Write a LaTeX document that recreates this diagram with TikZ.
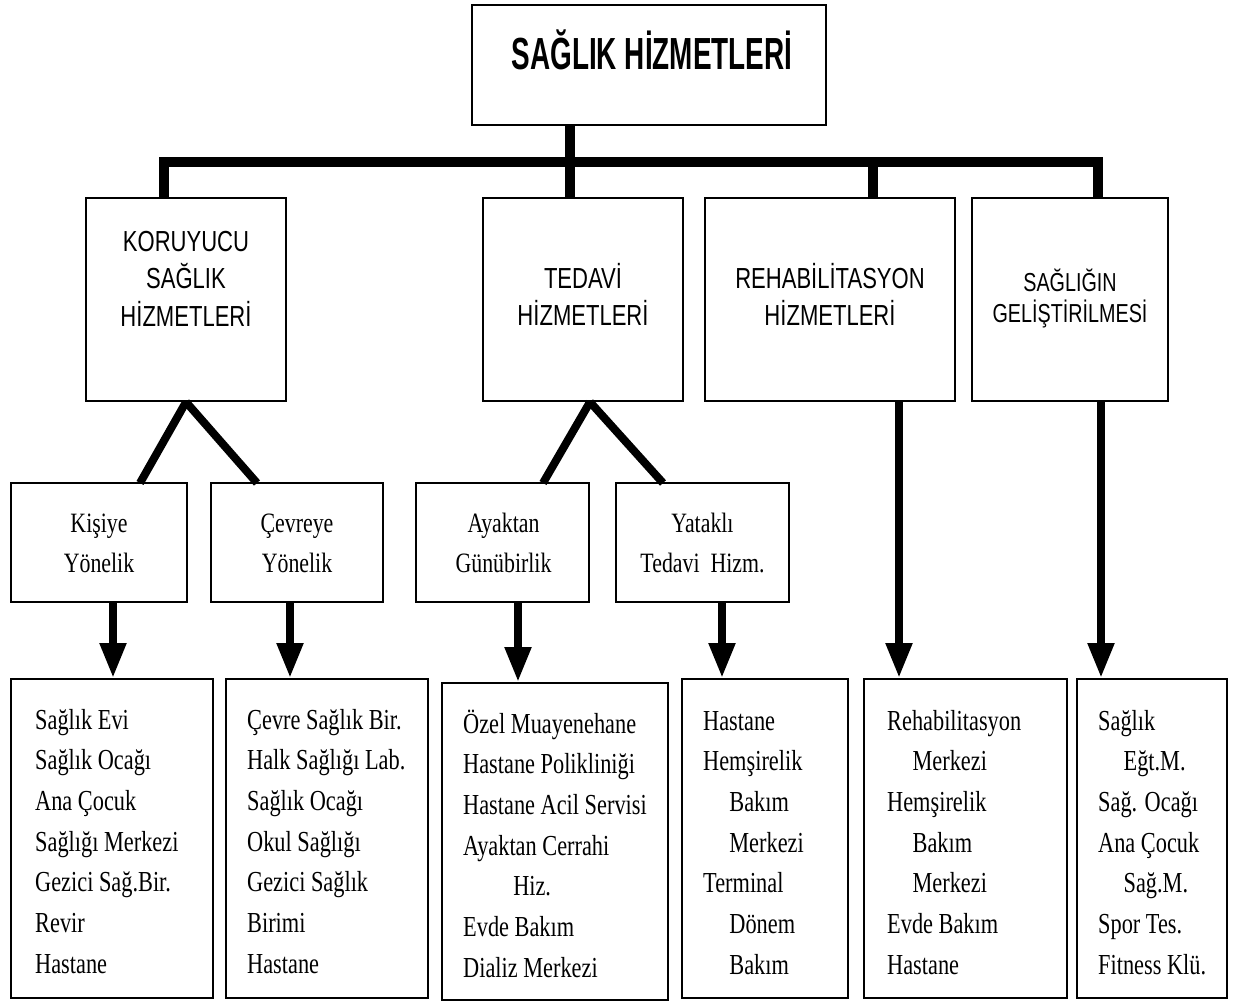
\documentclass[tikz,border=0pt]{standalone}
\usepackage{graphicx}
\usepackage{fontspec}
\setmainfont{Liberation Serif}
\setsansfont{Liberation Sans}
\usetikzlibrary{arrows.meta}

% a horizontally narrowed stack of lines; first row's baseline is the box baseline
\newcommand\linestack[3]{\scalebox{#1}[1]{\begin{tabular}[t]{@{}#2@{}}#3\end{tabular}}}
\newcommand\ind[1]{\hspace*{#1pt}}

\begin{document}
\begin{tikzpicture}[x=1pt,y=-1pt,
  box/.style={draw, line width=2pt, rectangle, inner sep=0pt},
  bus/.style={line width=10pt, line join=miter},
  leg/.style={line width=8pt},
  arr/.style={line width=8pt, -{Triangle[width=25pt,length=35pt]}},
  txt/.style={inner sep=0pt, anchor=base},
  head/.style={txt, font=\sffamily\fontsize{29}{37.5}\selectfont},
  sub/.style={txt, font=\rmfamily\fontsize{28}{40}\selectfont},
  list/.style={inner sep=0pt, anchor=base west, font=\rmfamily\fontsize{29}{40.7}\selectfont}
]
\useasboundingbox (0,0) rectangle (1243,1001);

% ---- boxes
\node[box, minimum width=354, minimum height=120] (top) at (649,65) {};
\node[box, minimum width=200, minimum height=203] (kor) at (186,299.5) {};
\node[box, minimum width=200, minimum height=203] (ted) at (583,299.5) {};
\node[box, minimum width=250, minimum height=203] (reh) at (830,299.5) {};
\node[box, minimum width=196, minimum height=203] (gel) at (1070,299.5) {};

\node[box, minimum width=176, minimum height=119] (kis) at (99,542.5) {};
\node[box, minimum width=172, minimum height=119] (cev) at (297,542.5) {};
\node[box, minimum width=173, minimum height=119] (aya) at (502.5,542.5) {};
\node[box, minimum width=173, minimum height=119] (yat) at (702.5,542.5) {};

\node[box, minimum width=202, minimum height=319] (b1) at (112,838.5) {};
\node[box, minimum width=202, minimum height=319] (b2) at (327,838.5) {};
\node[box, minimum width=226, minimum height=317] (b3) at (555,841.5) {};
\node[box, minimum width=166, minimum height=319] (b4) at (765,838.5) {};
\node[box, minimum width=203, minimum height=319] (b5) at (965.5,838.5) {};
\node[box, minimum width=150, minimum height=319] (b6) at (1152,838.5) {};

% ---- texts
\node[txt, font=\sffamily\bfseries\fontsize{45}{50}\selectfont] (ttl) at (652,69)
  {\scalebox{0.62}[1]{SAĞLIK HİZMETLERİ}};

\node[head] (korT) at (186,251) {\linestack{0.76}{c}{KORUYUCU\\SAĞLIK\\HİZMETLERİ}};
\node[head] (tedT) at (583,288) {\linestack{0.76}{c}{TEDAVİ\\HİZMETLERİ}};
\node[head] (rehT) at (830,288) {\linestack{0.76}{c}{REHABİLİTASYON\\HİZMETLERİ}};
\node[txt, font=\sffamily\fontsize{26}{31}\selectfont] (gelT) at (1070,291)
  {\linestack{0.76}{c}{SAĞLIĞIN\\GELİŞTİRİLMESİ}};

\node[sub] (kisT) at (99,532) {\linestack{0.78}{c}{Kişiye\\Yönelik}};
\node[sub] (cevT) at (297,532) {\linestack{0.78}{c}{Çevreye\\Yönelik}};
\node[sub] (ayaT) at (503.5,532) {\linestack{0.78}{c}{Ayaktan\\Günübirlik}};
\node[sub] (yatT) at (702.5,532) {\linestack{0.78}{c}{Yataklı\\Tedavi\ \ Hizm.}};

\node[list] (b1T) at (35,729) {\linestack{0.77}{l}{Sağlık Evi\\Sağlık Ocağı\\Ana Çocuk\\Sağlığı Merkezi\\Gezici Sağ.Bir.\\Revir\\Hastane}};
\node[list] (b2T) at (247,729) {\linestack{0.77}{l}{Çevre Sağlık Bir.\\Halk Sağlığı Lab.\\Sağlık Ocağı\\Okul Sağlığı\\Gezici Sağlık\\Birimi\\Hastane}};
\node[list] (b3T) at (463,733) {\linestack{0.77}{l}{Özel Muayenehane\\Hastane Polikliniği\\Hastane Acil Servisi\\Ayaktan Cerrahi\\\ind{65}Hiz.\\Evde Bakım\\Dializ Merkezi}};
\node[list] (b4T) at (703,730) {\linestack{0.77}{l}{Hastane\\Hemşirelik\\\ind{34}Bakım\\\ind{34}Merkezi\\Terminal\\\ind{34}Dönem\\\ind{34}Bakım}};
\node[list] (b5T) at (887,730) {\linestack{0.77}{l}{Rehabilitasyon\\\ind{33}Merkezi\\Hemşirelik\\\ind{33}Bakım\\\ind{33}Merkezi\\Evde Bakım\\Hastane}};
\node[list] (b6T) at (1098,730) {\linestack{0.77}{l}{Sağlık\\\ind{33}Eğt.M.\\Sağ. Ocağı\\Ana Çocuk\\\ind{33}Sağ.M.\\Spor Tes.\\Fitness Klü.}};

% ---- distribution bar
\coordinate (j1) at (164,162);
\coordinate (j2) at (570,162);
\coordinate (j3) at (873,162);
\coordinate (j4) at (1098,162);
\draw[bus] (j1 |- kor.north) -- (j1) -- (j4) -- (j4 |- gel.north);
\draw[bus] (j2 |- top.south) -- (j2 |- ted.north);
\draw[bus] (j3) -- (j3 |- reh.north);

% ---- branching legs
\coordinate (k1) at (140,483);
\coordinate (k2) at (257,483);
\coordinate (t1) at (543,483);
\coordinate (t2) at (663,483);
\draw[leg] (kor.south) -- (k1);
\draw[leg] (kor.south) -- (k2);
\draw[leg] ([xshift=7pt]ted.south) -- (t1);
\draw[leg] ([xshift=7pt]ted.south) -- (t2);

% ---- arrows into the lists
\draw[arr] ([xshift=14pt]kis.south) -- ([xshift=14pt]kis.south |- b1.north);
\draw[arr] ([xshift=-7pt]cev.south) -- ([xshift=-7pt]cev.south |- b2.north);
\draw[arr] ([xshift=15.5pt]aya.south) -- ([xshift=15.5pt]aya.south |- b3.north);
\draw[arr] ([xshift=19.5pt]yat.south) -- ([xshift=19.5pt]yat.south |- b4.north);
\draw[arr] ([xshift=69pt]reh.south) -- ([xshift=69pt]reh.south |- b5.north);
\draw[arr] ([xshift=31pt]gel.south) -- ([xshift=31pt]gel.south |- b6.north);
\end{tikzpicture}
\end{document}
